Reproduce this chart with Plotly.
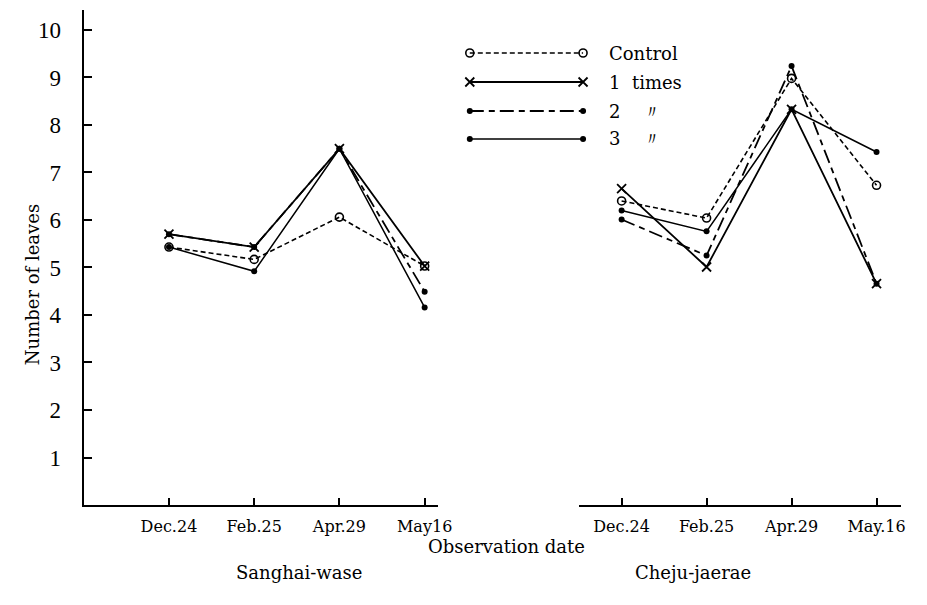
import plotly.graph_objects as go

# ---------------- data ----------------
dates_left = ["Dec.24", "Feb.25", "Apr.29", "May16"]
dates_right = ["Dec.24", "Feb.25", "Apr.29", "May.16"]

series_names = ["Control", "1  times", "2    〃", "3    〃"]

# Sanghai-wase
control_s = [5.43, 5.17, 6.06, 5.03]
t1_s = [5.70, 5.43, 7.50, 5.03]
t2_s = [5.70, 5.43, 7.50, 4.49]
t3_s = [5.43, 4.92, 7.50, 4.16]

# Cheju-jaerae
control_c = [6.40, 6.04, 8.98, 6.73]
t1_c = [6.66, 5.01, 8.33, 4.66]
t2_c = [6.01, 5.25, 9.24, 4.66]
t3_c = [6.20, 5.76, 8.33, 7.43]

y_ticks = [1, 2, 3, 4, 5, 6, 7, 8, 9, 10]

# ---------------- styles ----------------
W, H = 927, 605
SERIF = "Liberation Serif"
WIDE = "DejaVu Serif"
styles = [
    dict(line=dict(color="black", width=1.6, dash="5px,3px"),
         marker=dict(symbol="circle-open", size=8, color="black", line=dict(width=1.6))),
    dict(line=dict(color="black", width=1.8),
         marker=dict(symbol="x-thin-open", size=9, color="black", line=dict(width=1.8, color="black"))),
    dict(line=dict(color="black", width=1.8, dash="14px,5px,6px,5px"),
         marker=dict(symbol="circle", size=6, color="black")),
    dict(line=dict(color="black", width=1.5),
         marker=dict(symbol="circle", size=6, color="black")),
]

fig = go.Figure()
xi = list(range(len(dates_left)))
for vals, st in zip([control_s, t1_s, t2_s, t3_s], styles):
    fig.add_trace(go.Scatter(x=xi, y=vals, mode="lines+markers", xaxis="x", yaxis="y",
                             showlegend=False, cliponaxis=False, **st))
for vals, st in zip([control_c, t1_c, t2_c, t3_c], styles):
    fig.add_trace(go.Scatter(x=xi, y=vals, mode="lines+markers", xaxis="x2", yaxis="y2",
                             showlegend=False, cliponaxis=False, **st))

# legend samples drawn on their own small axis (pixel coordinates)
leg_rows = [53, 82, 111, 139]
leg_x0, leg_x1, leg_tx = 477, 592, 616
LX0, LX1, LY0, LY1 = 460, 610, 40, 150
for row, st, name in zip(leg_rows, styles, series_names):
    fig.add_trace(go.Scatter(x=[leg_x0, leg_x1], y=[row, row], mode="lines+markers",
                             xaxis="x3", yaxis="y3", showlegend=False, cliponaxis=False, **st))
    fig.add_annotation(x=leg_tx / W, y=1 - row / H, xref="paper", yref="paper",
                       text=name, showarrow=False, xanchor="left", yanchor="middle",
                       font=dict(family=WIDE, size=18, color="black"))

y0_px, y1_px = 505, 10
ydom = [(H - y0_px) / H, (H - y1_px) / H]
yrange = [0, 10.42]

axis_common = dict(showline=True, linecolor="black", linewidth=2, ticks="inside",
                   tickcolor="black", tickwidth=1.5, showgrid=False, zeroline=False,
                   tickfont=dict(family=WIDE, size=16, color="black"))

fig.update_layout(
    width=W, height=H, margin=dict(l=0, r=0, t=0, b=0),
    paper_bgcolor="white", plot_bgcolor="white",
    showlegend=False,
    xaxis=dict(domain=[85 / W, 445 / W], range=[-1.0, 3.16], anchor="y",
               tickvals=xi, ticktext=dates_left, ticklen=7, ticklabelstandoff=6,
               **axis_common),
    xaxis2=dict(domain=[588 / W, 915 / W], range=[-0.5, 3.29], anchor="y2",
                tickvals=xi, ticktext=dates_right, ticklen=7, ticklabelstandoff=6,
                **axis_common),
    yaxis=dict(domain=ydom, range=yrange, anchor="x", tickvals=y_ticks,
               ticklen=8, ticklabelstandoff=16,
               **{**axis_common, "tickfont": dict(family=SERIF, size=23, color="black")}),
    yaxis2=dict(domain=ydom, range=yrange, anchor="x2", visible=False),
    xaxis3=dict(domain=[LX0 / W, LX1 / W], range=[LX0, LX1], visible=False, anchor="y3"),
    yaxis3=dict(domain=[1 - LY1 / H, 1 - LY0 / H], range=[LY1, LY0], visible=False, anchor="x3"),
)

fig.add_annotation(x=20 / W, y=1 - 285 / H, xref="paper", yref="paper", text="Number of leaves",
                   textangle=-90, showarrow=False, font=dict(family=WIDE, size=18, color="black"))
fig.add_annotation(x=514 / W, y=1 - 559 / H, xref="paper", yref="paper", text="Observation date",
                   showarrow=False, font=dict(family=WIDE, size=18, color="black"))
fig.add_annotation(x=238 / W, y=1 - 585 / H, xref="paper", yref="paper", text="Sanghai-wase",
                   showarrow=False, font=dict(family=WIDE, size=18, color="black"))
fig.add_annotation(x=765 / W, y=1 - 585 / H, xref="paper", yref="paper", text="Cheju-jaerae",
                   showarrow=False, font=dict(family=WIDE, size=18, color="black"))

fig.write_html("out.html")
